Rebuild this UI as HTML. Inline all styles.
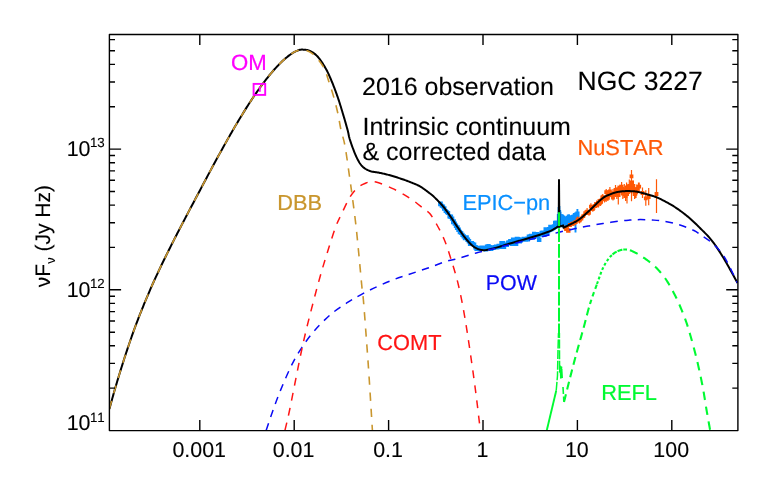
<!DOCTYPE html>
<html><head><meta charset="utf-8"><title>NGC 3227 SED</title>
<style>html,body{margin:0;padding:0;background:#fff;}svg{display:block;will-change:transform;}text{font-family:"Liberation Sans",sans-serif;text-rendering:geometricPrecision;font-kerning:none;}.k text{stroke:#000;stroke-width:.12px;}</style>
</head><body>
<svg width="770" height="500" viewBox="0 0 770 500">
<rect width="770" height="500" fill="#fff"/>
<defs><clipPath id="pc"><rect x="109.4" y="34.5" width="628.5" height="396.1"/></clipPath></defs>
<g clip-path="url(#pc)">
<path d="M557.8 214.0V227.0M558.6 207.0V227.0M559.4 206.0V227.0M560.2 210.0V227.0M560.6 211.7V226.9M561.8 214.0V227.2M563.0 214.4V227.5M564.2 215.5V227.4M565.4 216.6V226.8M566.6 215.8V226.2M567.8 214.6V225.6M569.0 214.2V225.0M570.2 215.6V224.4M571.4 215.0V223.8M572.6 214.4V223.2M573.8 212.9V222.6M575.0 212.6V222.0M576.2 211.6V221.3M577.4 208.9V220.6M578.6 211.6V219.8M575.5 222V232.5" stroke="#0a90ff" stroke-width="1.9" fill="none"/>
<path d="M438.1 201.5h4.7v4.7h-4.7zM439.7 203.7h4.1v4.1h-4.1zM441.0 204.4h4.1v4.1h-4.1zM442.0 206.2h4.5v4.5h-4.5zM443.6 208.9h4.1v4.1h-4.1zM444.9 210.2h4.1v4.1h-4.1zM446.1 210.9h4.1v4.1h-4.1zM447.4 214.2h4.2v4.2h-4.2zM448.5 214.4h4.6v4.6h-4.6zM449.9 216.4h4.4v4.4h-4.4zM451.0 219.3h4.9v4.9h-4.9zM452.6 221.4h4.3v4.3h-4.3zM453.8 223.6h4.3v4.3h-4.3zM454.9 225.3h4.8v4.8h-4.8zM456.3 227.4h4.6v4.6h-4.6zM457.7 229.8h4.4v4.4h-4.4zM459.2 230.9h4.1v4.1h-4.1zM460.4 232.8h4.2v4.2h-4.2zM461.6 234.3h4.3v4.3h-4.3zM462.8 235.6h4.6v4.6h-4.6zM464.0 235.2h4.8v4.8h-4.8zM465.4 237.4h4.7v4.7h-4.7zM466.7 238.9h4.5v4.5h-4.5zM467.9 241.2h4.9v4.9h-4.9zM469.1 241.1h5.0v5.0h-5.0zM470.8 242.1h4.1v4.1h-4.1zM472.1 242.4h4.2v4.2h-4.2zM473.3 245.1h4.5v4.5h-4.5zM474.4 246.2h4.8v4.8h-4.8zM475.8 245.8h4.6v4.6h-4.6zM477.1 246.5h4.7v4.7h-4.7zM478.4 245.8h4.6v4.6h-4.6zM479.6 245.6h4.8v4.8h-4.8zM480.8 246.1h4.9v4.9h-4.9zM482.6 245.7h4.1v4.1h-4.1zM483.5 246.7h4.7v4.7h-4.7zM484.8 244.5h4.8v4.8h-4.8zM486.4 244.0h4.3v4.3h-4.3zM487.8 245.1h4.0v4.0h-4.0zM488.9 246.4h4.5v4.5h-4.5zM490.4 245.7h4.1v4.1h-4.1zM491.3 245.2h4.8v4.8h-4.8zM492.8 245.1h4.4v4.4h-4.4zM493.9 244.5h4.9v4.9h-4.9zM495.3 244.7h4.5v4.5h-4.5zM496.5 243.7h4.9v4.9h-4.9zM498.1 244.8h4.3v4.3h-4.3zM499.3 241.1h4.4v4.4h-4.4zM500.3 241.0h5.0v5.0h-5.0zM502.0 244.7h4.2v4.2h-4.2zM503.3 242.6h4.2v4.2h-4.2zM504.5 242.6h4.5v4.5h-4.5zM506.0 240.6h4.0v4.0h-4.0zM507.1 240.3h4.4v4.4h-4.4zM508.1 239.0h5.0v5.0h-5.0zM509.6 241.4h4.7v4.7h-4.7zM510.9 237.5h4.7v4.7h-4.7zM512.5 239.3h4.1v4.1h-4.1zM513.4 241.0h4.9v4.9h-4.9zM514.7 236.8h4.8v4.8h-4.8zM516.3 237.1h4.1v4.1h-4.1zM517.4 238.8h4.6v4.6h-4.6zM518.9 238.2h4.2v4.2h-4.2zM520.2 237.5h4.2v4.2h-4.2zM521.6 236.7h4.0v4.0h-4.0zM522.8 237.1h4.2v4.2h-4.2zM524.2 237.7h4.0v4.0h-4.0zM525.1 236.5h4.9v4.9h-4.9zM526.7 234.6h4.3v4.3h-4.3zM527.9 234.3h4.3v4.3h-4.3zM529.0 233.7h4.8v4.8h-4.8zM530.2 234.7h5.0v5.0h-5.0zM532.0 231.7h4.1v4.1h-4.1zM533.2 234.1h4.1v4.1h-4.1zM534.2 231.9h4.8v4.8h-4.8zM535.8 234.1h4.2v4.2h-4.2zM536.9 237.4h4.5v4.5h-4.5zM538.4 232.6h4.1v4.1h-4.1zM539.5 230.7h4.5v4.5h-4.5zM540.6 230.4h5.0v5.0h-5.0zM542.3 232.8h4.3v4.3h-4.3zM543.5 227.2h4.4v4.4h-4.4zM544.7 231.4h4.5v4.5h-4.5zM545.8 229.2h4.4v4.4h-4.4zM546.0 228.7h4.0v4.0h-4.0zM547.0 226.9h4.4v4.4h-4.4zM547.2 228.2h4.0v4.0h-4.0zM548.2 224.8h4.4v4.4h-4.4zM548.4 227.7h4.0v4.0h-4.0zM549.4 224.9h4.4v4.4h-4.4zM549.6 227.2h4.0v4.0h-4.0zM550.6 225.3h4.4v4.4h-4.4zM550.8 226.5h4.0v4.0h-4.0zM551.8 224.2h4.4v4.4h-4.4zM552.0 225.8h4.0v4.0h-4.0zM553.0 220.8h4.4v4.4h-4.4zM553.2 225.1h4.0v4.0h-4.0zM554.2 220.4h4.4v4.4h-4.4zM554.4 224.3h4.0v4.0h-4.0z" fill="#0a90ff" stroke="none"/>
</g>
<g clip-path="url(#pc)">
<path d="M570.0 223.2V226.8M571.9 221.5V226.1M573.8 220.6V226.0M575.7 219.7V224.7M577.6 216.6V222.2M579.5 217.5V223.6M581.4 215.6V221.5M583.3 213.8V218.4M585.2 209.9V216.2M587.1 208.1V215.1M589.0 210.1V215.7M590.9 203.2V210.0M592.8 206.6V211.8M594.7 202.2V209.9M596.6 200.4V208.0M598.5 199.3V207.6M600.4 198.5V206.0M602.3 194.4V200.3M604.2 195.9V201.5M606.1 194.5V202.0M608.0 190.2V199.3M609.9 186.9V195.9M611.8 191.6V198.5M596.0 202.2V206.8M597.7 201.6V207.2M599.4 198.8V203.4M601.1 198.4V205.2M602.8 194.0V200.1M604.5 195.4V202.6M606.2 189.1V195.3M607.9 194.5V201.0M609.6 191.3V197.6M611.3 191.3V197.0M613.0 194.7V200.5M614.7 189.6V196.6M616.4 188.8V195.4M618.1 185.5V192.9M619.8 184.8V191.0M621.5 186.3V194.2M623.2 187.1V196.0M624.9 189.5V197.6M626.6 182.4V192.2M628.3 185.6V193.7M630.0 184.7V193.2M631.7 184.6V194.1M633.4 183.9V192.6M635.1 187.3V198.2M636.8 184.6V195.6M638.5 182.4V190.7M656.5 179.3V212.9M648.7 188.1V205.2M645.8 190.3V205.7M642.5 187.5V198.0M639.2 182.6V191.4M636.0 187.0V198.0M633.4 180.5V191.0M631.5 170.0V201.3M631.5 170.0V182.0M629.3 179.5V194.0M627.0 184.3V203.5M624.3 184.0V198.0M621.6 182.0V193.6M618.3 187.0V204.6M615.5 185.0V197.0M613.0 189.0V200.0M619.8 186.0V197.0M625.6 190.0V201.0M622.8 188.0V199.0M616.8 188.5V199.0M628.2 185.0V196.0M634.6 189.0V199.0" stroke="#ff5805" stroke-width="1.2" fill="none"/>
<path d="M564.1 226.1h4.8v4.8h-4.8zM566.1 228.3h4.4v4.4h-4.4zM563.2 225.7h3.6v3.6h-3.6zM568.1 223.1h3.8v3.8h-3.8zM570.0 221.9h3.8v3.8h-3.8zM571.9 221.4h3.8v3.8h-3.8zM573.8 220.3h3.8v3.8h-3.8zM575.7 217.5h3.8v3.8h-3.8zM577.6 218.6h3.8v3.8h-3.8zM579.5 216.6h3.8v3.8h-3.8zM581.4 214.2h3.8v3.8h-3.8zM583.3 211.2h3.8v3.8h-3.8zM585.2 209.7h3.8v3.8h-3.8zM587.1 211.0h3.8v3.8h-3.8zM589.0 204.7h3.8v3.8h-3.8zM590.9 207.3h3.8v3.8h-3.8zM592.8 204.1h3.8v3.8h-3.8zM594.7 202.3h3.8v3.8h-3.8zM596.6 201.5h3.8v3.8h-3.8zM598.5 200.4h3.8v3.8h-3.8zM600.4 195.5h3.8v3.8h-3.8zM602.3 196.8h3.8v3.8h-3.8zM604.2 196.4h3.8v3.8h-3.8zM606.1 192.8h3.8v3.8h-3.8zM608.0 189.5h3.8v3.8h-3.8zM609.9 193.2h3.8v3.8h-3.8zM594.1 202.6h3.8v3.8h-3.8zM595.8 202.5h3.8v3.8h-3.8zM597.5 199.2h3.8v3.8h-3.8zM599.2 199.9h3.8v3.8h-3.8zM600.9 195.2h3.8v3.8h-3.8zM602.6 197.1h3.8v3.8h-3.8zM604.3 190.3h3.8v3.8h-3.8zM606.0 195.9h3.8v3.8h-3.8zM607.7 192.5h3.8v3.8h-3.8zM609.4 192.2h3.8v3.8h-3.8zM611.1 195.7h3.8v3.8h-3.8zM612.8 191.2h3.8v3.8h-3.8zM614.5 190.2h3.8v3.8h-3.8zM616.2 187.3h3.8v3.8h-3.8zM617.9 186.0h3.8v3.8h-3.8zM619.6 188.3h3.8v3.8h-3.8zM621.3 189.7h3.8v3.8h-3.8zM623.0 191.6h3.8v3.8h-3.8zM624.7 185.4h3.8v3.8h-3.8zM626.4 187.8h3.8v3.8h-3.8zM628.1 187.0h3.8v3.8h-3.8zM629.8 187.4h3.8v3.8h-3.8zM631.5 186.4h3.8v3.8h-3.8zM633.2 190.9h3.8v3.8h-3.8zM634.9 188.2h3.8v3.8h-3.8zM636.6 184.7h3.8v3.8h-3.8zM654.6 192.1h3.8v3.8h-3.8zM646.8 195.1h3.8v3.8h-3.8zM643.9 196.4h3.8v3.8h-3.8zM640.6 191.1h3.8v3.8h-3.8zM637.3 184.8h3.8v3.8h-3.8zM634.1 190.1h3.8v3.8h-3.8zM631.5 184.1h3.8v3.8h-3.8zM629.6 180.4h3.8v3.8h-3.8zM629.6 174.4h3.8v3.8h-3.8zM627.4 184.1h3.8v3.8h-3.8zM625.1 192.1h3.8v3.8h-3.8zM622.4 188.1h3.8v3.8h-3.8zM619.7 184.8h3.8v3.8h-3.8zM616.4 193.1h3.8v3.8h-3.8zM613.6 188.1h3.8v3.8h-3.8zM611.1 192.6h3.8v3.8h-3.8zM617.9 189.1h3.8v3.8h-3.8zM623.7 194.1h3.8v3.8h-3.8zM620.9 191.6h3.8v3.8h-3.8zM614.9 191.6h3.8v3.8h-3.8zM626.3 188.1h3.8v3.8h-3.8zM632.7 192.1h3.8v3.8h-3.8z" fill="#ff5805" stroke="none"/>
</g>
<g clip-path="url(#pc)" fill="none" stroke-linecap="butt" stroke-linejoin="round">
<path d="M109.40 408.90 L109.62 408.10 L109.90 407.11 L110.22 405.94 L110.58 404.64 L110.97 403.21 L111.39 401.71 L111.82 400.14 L112.27 398.54 L112.71 396.94 L113.16 395.36 L113.59 393.84 L114.00 392.40 L114.40 391.01 L114.80 389.63 L115.20 388.25 L115.60 386.88 L116.00 385.50 L116.41 384.11 L116.83 382.72 L117.24 381.31 L117.67 379.89 L118.10 378.45 L118.55 376.99 L119.00 375.50 L119.46 373.99 L119.93 372.46 L120.41 370.92 L120.89 369.36 L121.38 367.78 L121.88 366.19 L122.38 364.58 L122.89 362.97 L123.41 361.34 L123.93 359.70 L124.46 358.05 L125.00 356.40 L125.55 354.73 L126.10 353.05 L126.66 351.36 L127.22 349.65 L127.80 347.93 L128.38 346.20 L128.96 344.46 L129.56 342.72 L130.16 340.97 L130.76 339.21 L131.38 337.46 L132.00 335.70 L132.63 333.94 L133.25 332.19 L133.88 330.44 L134.52 328.69 L135.16 326.93 L135.81 325.16 L136.47 323.38 L137.15 321.59 L137.84 319.78 L138.54 317.94 L139.26 316.09 L140.00 314.20 L140.76 312.28 L141.55 310.31 L142.36 308.31 L143.19 306.28 L144.02 304.23 L144.88 302.18 L145.73 300.12 L146.59 298.07 L147.45 296.03 L148.31 294.02 L149.16 292.04 L150.00 290.10 L150.83 288.21 L151.64 286.35 L152.45 284.53 L153.26 282.73 L154.07 280.95 L154.88 279.17 L155.69 277.39 L156.52 275.60 L157.36 273.80 L158.22 271.97 L159.10 270.11 L160.00 268.20 L160.93 266.26 L161.87 264.29 L162.84 262.29 L163.81 260.28 L164.81 258.25 L165.81 256.21 L166.83 254.15 L167.85 252.09 L168.88 250.01 L169.92 247.94 L170.96 245.87 L172.00 243.80 L173.05 241.73 L174.11 239.64 L175.18 237.54 L176.26 235.44 L177.35 233.33 L178.44 231.21 L179.53 229.10 L180.63 226.99 L181.73 224.88 L182.82 222.77 L183.91 220.68 L185.00 218.60 L186.08 216.53 L187.17 214.46 L188.25 212.40 L189.33 210.35 L190.42 208.30 L191.50 206.25 L192.58 204.21 L193.67 202.16 L194.75 200.12 L195.83 198.08 L196.92 196.04 L198.00 194.00 L199.08 191.96 L200.17 189.91 L201.25 187.87 L202.33 185.83 L203.42 183.79 L204.50 181.75 L205.58 179.71 L206.67 177.68 L207.75 175.65 L208.83 173.63 L209.92 171.61 L211.00 169.60 L212.08 167.59 L213.17 165.58 L214.25 163.58 L215.33 161.58 L216.42 159.58 L217.50 157.59 L218.58 155.60 L219.67 153.62 L220.75 151.65 L221.83 149.69 L222.92 147.74 L224.00 145.80 L225.08 143.87 L226.17 141.95 L227.25 140.03 L228.33 138.12 L229.42 136.22 L230.50 134.32 L231.58 132.44 L232.67 130.57 L233.75 128.71 L234.83 126.86 L235.92 125.02 L237.00 123.20 L238.09 121.38 L239.18 119.56 L240.27 117.75 L241.37 115.94 L242.47 114.15 L243.56 112.37 L244.65 110.61 L245.74 108.87 L246.82 107.15 L247.89 105.47 L248.95 103.82 L250.00 102.20 L251.04 100.62 L252.07 99.06 L253.09 97.54 L254.11 96.03 L255.12 94.56 L256.12 93.11 L257.12 91.68 L258.11 90.28 L259.09 88.90 L260.07 87.54 L261.04 86.21 L262.00 84.90 L262.95 83.61 L263.90 82.35 L264.84 81.10 L265.78 79.89 L266.70 78.69 L267.62 77.52 L268.54 76.37 L269.44 75.25 L270.34 74.15 L271.24 73.07 L272.12 72.02 L273.00 71.00 L273.87 70.00 L274.75 69.02 L275.62 68.06 L276.48 67.13 L277.34 66.22 L278.19 65.34 L279.03 64.48 L279.85 63.65 L280.66 62.84 L281.46 62.07 L282.24 61.32 L283.00 60.60 L283.74 59.91 L284.47 59.25 L285.19 58.63 L285.89 58.03 L286.58 57.45 L287.25 56.91 L287.91 56.38 L288.56 55.89 L289.19 55.41 L289.81 54.95 L290.41 54.52 L291.00 54.10 L291.57 53.71 L292.13 53.34 L292.66 53.00 L293.19 52.69 L293.69 52.39 L294.19 52.12 L294.67 51.86 L295.15 51.63 L295.62 51.40 L296.08 51.19 L296.54 50.99 L297.00 50.80 L297.44 50.62 L297.86 50.45 L298.25 50.29 L298.63 50.15 L299.00 50.02 L299.38 49.91 L299.75 49.81 L300.15 49.73 L300.56 49.67 L301.00 49.63 L301.48 49.60 L302.00 49.60 L302.56 49.61 L303.16 49.63 L303.79 49.66 L304.44 49.70 L305.12 49.77 L305.81 49.85 L306.51 49.96 L307.22 50.10 L307.93 50.27 L308.63 50.47 L309.32 50.71 L310.00 51.00 L310.67 51.32 L311.33 51.66 L312.00 52.04 L312.67 52.44 L313.33 52.87 L314.00 53.34 L314.67 53.84 L315.33 54.39 L316.00 54.97 L316.67 55.60 L317.33 56.28 L318.00 57.00 L318.67 57.79 L319.36 58.64 L320.05 59.55 L320.74 60.52 L321.43 61.52 L322.12 62.56 L322.81 63.63 L323.48 64.70 L324.14 65.79 L324.78 66.87 L325.40 67.95 L326.00 69.00 L326.57 70.04 L327.12 71.07 L327.64 72.11 L328.15 73.15 L328.64 74.19 L329.12 75.25 L329.60 76.32 L330.07 77.41 L330.55 78.52 L331.02 79.65 L331.51 80.81 L332.00 82.00 L332.50 83.23 L333.01 84.49 L333.52 85.79 L334.04 87.11 L334.55 88.45 L335.06 89.81 L335.57 91.18 L336.07 92.56 L336.57 93.93 L337.06 95.30 L337.54 96.66 L338.00 98.00 L338.45 99.33 L338.90 100.67 L339.33 102.00 L339.76 103.33 L340.17 104.67 L340.59 106.00 L341.00 107.33 L341.40 108.67 L341.80 110.00 L342.20 111.33 L342.60 112.67 L343.00 114.00 L343.40 115.35 L343.82 116.74 L344.23 118.14 L344.64 119.56 L345.06 120.97 L345.46 122.38 L345.86 123.76 L346.24 125.11 L346.61 126.42 L346.97 127.68 L347.29 128.88 L347.60 130.00 L347.87 131.02 L348.09 131.94 L348.27 132.78 L348.43 133.56 L348.57 134.29 L348.71 135.00 L348.86 135.71 L349.01 136.44 L349.20 137.22 L349.42 138.06 L349.68 138.98 L350.00 140.00 L350.37 141.14 L350.79 142.39 L351.25 143.72 L351.73 145.11 L352.24 146.55 L352.77 148.00 L353.32 149.45 L353.87 150.89 L354.42 152.28 L354.96 153.61 L355.49 154.86 L356.00 156.00 L356.49 157.06 L356.98 158.07 L357.45 159.04 L357.93 159.96 L358.40 160.85 L358.88 161.69 L359.36 162.49 L359.85 163.26 L360.36 163.99 L360.88 164.69 L361.43 165.36 L362.00 166.00 L362.59 166.60 L363.19 167.16 L363.81 167.67 L364.44 168.15 L365.09 168.59 L365.75 169.01 L366.42 169.39 L367.11 169.75 L367.81 170.09 L368.53 170.40 L369.26 170.71 L370.00 171.00 L370.76 171.27 L371.55 171.49 L372.36 171.68 L373.19 171.84 L374.02 171.99 L374.88 172.11 L375.73 172.23 L376.59 172.34 L377.45 172.46 L378.31 172.59 L379.16 172.73 L380.00 172.90 L380.83 173.08 L381.67 173.26 L382.50 173.45 L383.33 173.64 L384.17 173.83 L385.00 174.03 L385.83 174.23 L386.67 174.43 L387.50 174.64 L388.33 174.85 L389.17 175.07 L390.00 175.30 L390.83 175.53 L391.67 175.77 L392.50 176.01 L393.33 176.26 L394.17 176.52 L395.00 176.78 L395.83 177.04 L396.67 177.30 L397.50 177.57 L398.33 177.85 L399.17 178.12 L400.00 178.40 L400.83 178.68 L401.67 178.96 L402.50 179.25 L403.33 179.53 L404.17 179.82 L405.00 180.12 L405.83 180.42 L406.67 180.72 L407.50 181.03 L408.33 181.35 L409.17 181.67 L410.00 182.00 L410.83 182.33 L411.67 182.66 L412.50 182.98 L413.33 183.31 L414.17 183.64 L415.00 183.98 L415.83 184.33 L416.67 184.70 L417.50 185.09 L418.33 185.50 L419.17 185.94 L420.00 186.40 L420.84 186.90 L421.70 187.44 L422.57 188.00 L423.44 188.60 L424.32 189.21 L425.19 189.83 L426.05 190.46 L426.89 191.09 L427.71 191.72 L428.51 192.33 L429.27 192.93 L430.00 193.50 L430.69 194.05 L431.34 194.58 L431.96 195.10 L432.56 195.61 L433.13 196.11 L433.69 196.61 L434.24 197.12 L434.78 197.63 L435.32 198.15 L435.87 198.68 L436.43 199.23 L437.00 199.80 L437.58 200.39 L438.17 200.98 L438.75 201.58 L439.33 202.19 L439.92 202.80 L440.50 203.43 L441.08 204.07 L441.67 204.73 L442.25 205.39 L442.83 206.08 L443.42 206.78 L444.00 207.50 L444.58 208.24 L445.17 209.00 L445.75 209.79 L446.33 210.59 L446.92 211.40 L447.50 212.22 L448.08 213.06 L448.67 213.90 L449.25 214.75 L449.83 215.60 L450.42 216.45 L451.00 217.30 L451.58 218.15 L452.17 219.02 L452.75 219.89 L453.33 220.77 L453.92 221.66 L454.50 222.55 L455.08 223.44 L455.67 224.33 L456.25 225.21 L456.83 226.08 L457.42 226.95 L458.00 227.80 L458.58 228.65 L459.17 229.50 L459.75 230.35 L460.33 231.20 L460.92 232.04 L461.50 232.87 L462.08 233.70 L462.67 234.51 L463.25 235.31 L463.83 236.10 L464.42 236.86 L465.00 237.60 L465.59 238.33 L466.18 239.05 L466.78 239.77 L467.39 240.48 L467.99 241.17 L468.59 241.84 L469.18 242.50 L469.77 243.12 L470.35 243.72 L470.91 244.28 L471.47 244.81 L472.00 245.30 L472.52 245.75 L473.01 246.15 L473.50 246.52 L473.97 246.86 L474.43 247.16 L474.89 247.44 L475.34 247.70 L475.79 247.94 L476.23 248.17 L476.68 248.39 L477.14 248.60 L477.60 248.80 L478.07 249.00 L478.53 249.18 L479.00 249.35 L479.47 249.50 L479.93 249.64 L480.40 249.76 L480.87 249.87 L481.33 249.97 L481.80 250.05 L482.27 250.11 L482.73 250.16 L483.20 250.20 L483.66 250.22 L484.10 250.22 L484.53 250.21 L484.96 250.17 L485.39 250.13 L485.83 250.07 L486.27 250.00 L486.73 249.91 L487.20 249.82 L487.70 249.72 L488.24 249.61 L488.80 249.50 L489.39 249.38 L489.99 249.25 L490.60 249.12 L491.23 248.97 L491.88 248.82 L492.55 248.65 L493.25 248.47 L493.97 248.29 L494.73 248.08 L495.51 247.87 L496.34 247.64 L497.20 247.40 L498.12 247.13 L499.11 246.84 L500.16 246.53 L501.24 246.20 L502.36 245.85 L503.50 245.50 L504.64 245.15 L505.78 244.79 L506.89 244.45 L507.98 244.11 L509.02 243.80 L510.00 243.50 L510.93 243.22 L511.83 242.96 L512.70 242.70 L513.54 242.46 L514.37 242.22 L515.17 241.98 L515.98 241.75 L516.77 241.52 L517.57 241.29 L518.37 241.07 L519.18 240.83 L520.00 240.60 L520.83 240.36 L521.67 240.13 L522.50 239.90 L523.33 239.67 L524.17 239.44 L525.00 239.21 L525.83 238.98 L526.67 238.75 L527.50 238.52 L528.33 238.28 L529.17 238.04 L530.00 237.80 L530.83 237.55 L531.67 237.31 L532.50 237.06 L533.33 236.81 L534.17 236.55 L535.00 236.30 L535.83 236.04 L536.67 235.78 L537.50 235.52 L538.33 235.25 L539.17 234.98 L540.00 234.70 L540.85 234.41 L541.72 234.12 L542.62 233.81 L543.52 233.50 L544.42 233.19 L545.31 232.88 L546.19 232.56 L547.04 232.25 L547.85 231.95 L548.62 231.65 L549.34 231.37 L550.00 231.10 L550.60 230.84 L551.14 230.59 L551.64 230.35 L552.10 230.11 L552.52 229.88 L552.92 229.66 L553.29 229.44 L553.64 229.22 L553.99 229.01 L554.32 228.80 L554.66 228.60 L555.00 228.40 L555.35 228.20 L555.69 227.99 L556.02 227.78 L556.35 227.58 L556.66 227.38 L556.96 227.18 L557.25 227.00 L557.51 226.82 L557.75 226.66 L557.96 226.52 L558.15 226.40 L558.30 226.30 L558.7 226.5 L559 179.2 L559.4 226.6 L563 225.6 L563.6 227.6 563.60 227.60 L563.66 227.58 L563.71 227.56 L563.77 227.54 L563.83 227.51 L563.90 227.49 L563.99 227.46 L564.09 227.42 L564.21 227.36 L564.36 227.30 L564.54 227.22 L564.75 227.12 L565.00 227.00 L565.29 226.86 L565.63 226.69 L566.00 226.51 L566.40 226.31 L566.83 226.09 L567.27 225.87 L567.73 225.64 L568.20 225.40 L568.67 225.17 L569.12 224.94 L569.57 224.71 L570.00 224.50 L570.42 224.29 L570.83 224.09 L571.25 223.89 L571.67 223.69 L572.08 223.49 L572.50 223.29 L572.92 223.09 L573.33 222.89 L573.75 222.67 L574.17 222.46 L574.58 222.23 L575.00 222.00 L575.42 221.76 L575.83 221.52 L576.25 221.27 L576.67 221.02 L577.08 220.77 L577.50 220.51 L577.92 220.24 L578.33 219.97 L578.75 219.69 L579.17 219.40 L579.58 219.10 L580.00 218.80 L580.42 218.49 L580.83 218.16 L581.25 217.83 L581.67 217.49 L582.08 217.14 L582.50 216.79 L582.92 216.43 L583.33 216.07 L583.75 215.70 L584.17 215.33 L584.58 214.97 L585.00 214.60 L585.42 214.23 L585.83 213.86 L586.25 213.48 L586.67 213.10 L587.08 212.72 L587.50 212.34 L587.92 211.95 L588.33 211.56 L588.75 211.17 L589.17 210.78 L589.58 210.39 L590.00 210.00 L590.42 209.61 L590.83 209.21 L591.25 208.81 L591.67 208.41 L592.08 208.01 L592.50 207.61 L592.92 207.21 L593.33 206.81 L593.75 206.40 L594.17 206.00 L594.58 205.60 L595.00 205.20 L595.42 204.80 L595.83 204.39 L596.25 203.98 L596.67 203.56 L597.08 203.15 L597.50 202.74 L597.92 202.33 L598.33 201.93 L598.75 201.53 L599.17 201.14 L599.58 200.76 L600.00 200.40 L600.42 200.04 L600.83 199.69 L601.25 199.34 L601.67 199.00 L602.08 198.66 L602.50 198.34 L602.92 198.02 L603.33 197.71 L603.75 197.41 L604.17 197.13 L604.58 196.86 L605.00 196.60 L605.42 196.36 L605.83 196.14 L606.25 195.93 L606.67 195.73 L607.08 195.55 L607.50 195.38 L607.92 195.21 L608.33 195.04 L608.75 194.88 L609.17 194.73 L609.58 194.56 L610.00 194.40 L610.42 194.23 L610.83 194.07 L611.25 193.90 L611.67 193.74 L612.08 193.58 L612.50 193.43 L612.92 193.27 L613.33 193.13 L613.75 192.98 L614.17 192.85 L614.58 192.72 L615.00 192.60 L615.41 192.49 L615.82 192.38 L616.23 192.28 L616.63 192.19 L617.03 192.10 L617.44 192.02 L617.85 191.94 L618.26 191.87 L618.68 191.80 L619.11 191.73 L619.55 191.66 L620.00 191.60 L620.46 191.54 L620.94 191.48 L621.43 191.43 L621.93 191.37 L622.43 191.33 L622.94 191.28 L623.45 191.24 L623.96 191.20 L624.48 191.17 L624.99 191.14 L625.50 191.12 L626.00 191.10 L626.50 191.09 L627.01 191.08 L627.51 191.07 L628.02 191.07 L628.53 191.07 L629.03 191.08 L629.54 191.09 L630.04 191.11 L630.54 191.13 L631.03 191.15 L631.52 191.17 L632.00 191.20 L632.47 191.23 L632.91 191.25 L633.34 191.28 L633.76 191.30 L634.18 191.33 L634.59 191.37 L635.02 191.41 L635.46 191.46 L635.93 191.53 L636.42 191.60 L636.94 191.69 L637.50 191.80 L638.10 191.92 L638.71 192.06 L639.36 192.21 L640.02 192.37 L640.70 192.54 L641.41 192.72 L642.13 192.91 L642.87 193.11 L643.63 193.32 L644.40 193.54 L645.19 193.77 L646.00 194.00 L646.82 194.24 L647.67 194.47 L648.53 194.71 L649.41 194.96 L650.30 195.21 L651.22 195.47 L652.15 195.76 L653.09 196.06 L654.05 196.38 L655.02 196.72 L656.01 197.10 L657.00 197.50 L658.02 197.94 L659.09 198.42 L660.18 198.93 L661.30 199.47 L662.43 200.04 L663.56 200.61 L664.69 201.20 L665.81 201.79 L666.91 202.38 L667.98 202.97 L669.02 203.54 L670.00 204.10 L670.94 204.64 L671.84 205.17 L672.71 205.70 L673.56 206.22 L674.38 206.74 L675.19 207.27 L675.99 207.80 L676.78 208.33 L677.57 208.88 L678.37 209.44 L679.18 210.01 L680.00 210.60 L680.83 211.20 L681.67 211.82 L682.50 212.44 L683.33 213.07 L684.17 213.71 L685.00 214.36 L685.83 215.02 L686.67 215.70 L687.50 216.38 L688.33 217.07 L689.17 217.78 L690.00 218.50 L690.83 219.23 L691.64 219.95 L692.45 220.69 L693.26 221.43 L694.07 222.18 L694.88 222.94 L695.69 223.73 L696.52 224.53 L697.36 225.36 L698.22 226.21 L699.10 227.09 L700.00 228.00 L700.93 228.93 L701.88 229.88 L702.86 230.85 L703.85 231.83 L704.86 232.84 L705.88 233.87 L706.90 234.93 L707.93 236.03 L708.95 237.16 L709.98 238.33 L710.99 239.54 L712.00 240.80 L713.00 242.10 L713.98 243.43 L714.96 244.79 L715.94 246.19 L716.92 247.62 L717.91 249.09 L718.89 250.60 L719.89 252.15 L720.89 253.74 L721.91 255.38 L722.95 257.07 L724.00 258.80 L725.12 260.68 L726.32 262.75 L727.59 264.98 L728.89 267.30 L730.20 269.67 L731.50 272.03 L732.76 274.32 L733.94 276.50 L735.04 278.51 L736.01 280.30 L736.84 281.81 L737.50 283.00" stroke="#000" stroke-width="2.0" stroke-linejoin="miter"/>
<path d="M266.20 430.20 C267.23 427.17 269.97 418.77 272.40 412.00 C274.83 405.23 277.53 397.53 280.80 389.60 C284.07 381.67 288.50 371.40 292.00 364.40 C295.50 357.40 298.07 353.20 301.80 347.60 C305.53 342.00 309.50 336.40 314.40 330.80 C319.30 325.20 325.60 318.77 331.20 314.00 C336.80 309.23 344.03 304.87 348.00 302.20 C351.97 299.53 351.33 300.03 355.00 298.00 C358.67 295.97 364.17 292.83 370.00 290.00 C375.83 287.17 383.67 283.55 390.00 281.00 C396.33 278.45 401.67 276.87 408.00 274.70 C414.33 272.53 421.67 270.22 428.00 268.00 C434.33 265.78 441.47 262.85 446.00 261.40 C450.53 259.95 450.17 260.70 455.20 259.30 C460.23 257.90 468.73 255.05 476.20 253.00 C483.67 250.95 491.03 249.25 500.00 247.00 C508.97 244.75 522.50 241.33 530.00 239.50 C537.50 237.67 540.00 237.25 545.00 236.00 C550.00 234.75 554.17 233.40 560.00 232.00 C565.83 230.60 575.00 228.65 580.00 227.60 C585.00 226.55 586.17 226.38 590.00 225.70 C593.83 225.02 598.00 224.28 603.00 223.50 C608.00 222.72 615.50 221.57 620.00 221.00 C624.50 220.43 626.67 220.33 630.00 220.10 C633.33 219.87 636.33 219.62 640.00 219.60 C643.67 219.58 648.00 219.73 652.00 220.00 C656.00 220.27 659.33 220.37 664.00 221.20 C668.67 222.03 675.00 223.45 680.00 225.00 C685.00 226.55 690.67 228.93 694.00 230.50 C697.33 232.07 697.00 232.32 700.00 234.40 C703.00 236.48 708.00 239.33 712.00 243.00 C716.00 246.67 719.75 249.73 724.00 256.40 C728.25 263.07 735.25 278.57 737.50 283.00" stroke="#0a0af5" stroke-width="1.5" stroke-dasharray="7.5 6.4"/>
<path d="M285.00 430.20 C285.70 427.17 287.57 419.70 289.20 412.00 C290.83 404.30 292.93 393.33 294.80 384.00 C296.67 374.67 298.53 364.87 300.40 356.00 C302.27 347.13 303.77 340.13 306.00 330.80 C308.23 321.47 311.47 308.97 313.80 300.00 C316.13 291.03 318.13 283.67 320.00 277.00 C321.87 270.33 323.33 265.50 325.00 260.00 C326.67 254.50 328.17 249.67 330.00 244.00 C331.83 238.33 334.00 231.17 336.00 226.00 C338.00 220.83 339.67 217.83 342.00 213.00 C344.33 208.17 347.33 201.28 350.00 197.00 C352.67 192.72 355.33 189.63 358.00 187.30 C360.67 184.97 363.83 183.93 366.00 183.00 C368.17 182.07 369.33 181.87 371.00 181.70 C372.67 181.53 373.83 181.48 376.00 182.00 C378.17 182.52 381.00 183.60 384.00 184.80 C387.00 186.00 390.67 187.57 394.00 189.20 C397.33 190.83 400.67 192.63 404.00 194.60 C407.33 196.57 410.67 198.60 414.00 201.00 C417.33 203.40 421.33 206.87 424.00 209.00 C426.67 211.13 427.83 211.13 430.00 213.80 C432.17 216.47 434.67 220.80 437.00 225.00 C439.33 229.20 441.83 233.83 444.00 239.00 C446.17 244.17 447.63 248.47 450.00 256.00 C452.37 263.53 455.70 273.80 458.20 284.20 C460.70 294.60 462.72 305.10 465.00 318.40 C467.28 331.70 469.98 350.68 471.90 364.00 C473.82 377.32 475.10 387.27 476.50 398.30 C477.90 409.33 479.67 424.88 480.30 430.20" stroke="#ff1414" stroke-width="1.5" stroke-dasharray="7.8 7.4"/>
<path d="M109.40 408.90 C110.17 406.15 112.40 397.97 114.00 392.40 C115.60 386.83 117.17 381.50 119.00 375.50 C120.83 369.50 122.83 363.03 125.00 356.40 C127.17 349.77 129.50 342.73 132.00 335.70 C134.50 328.67 137.00 321.80 140.00 314.20 C143.00 306.60 146.67 297.77 150.00 290.10 C153.33 282.43 156.33 275.92 160.00 268.20 C163.67 260.48 167.83 252.07 172.00 243.80 C176.17 235.53 180.67 226.90 185.00 218.60 C189.33 210.30 193.67 202.17 198.00 194.00 C202.33 185.83 206.67 177.63 211.00 169.60 C215.33 161.57 219.67 153.53 224.00 145.80 C228.33 138.07 232.67 130.47 237.00 123.20 C241.33 115.93 245.83 108.58 250.00 102.20 C254.17 95.82 258.17 90.10 262.00 84.90 C265.83 79.70 269.50 75.05 273.00 71.00 C276.50 66.95 280.00 63.42 283.00 60.60 C286.00 57.78 288.67 55.73 291.00 54.10 C293.33 52.47 295.17 51.52 297.00 50.80 C298.83 50.08 300.00 49.68 302.00 49.80 C304.00 49.92 306.67 50.30 309.00 51.50 C311.33 52.70 313.50 54.25 316.00 57.00 C318.50 59.75 321.83 63.83 324.00 68.00 C326.17 72.17 327.33 77.00 329.00 82.00 C330.67 87.00 332.50 92.67 334.00 98.00 C335.50 103.33 336.83 108.67 338.00 114.00 C339.17 119.33 339.83 124.67 341.00 130.00 C342.17 135.33 343.50 137.67 345.00 146.00 C346.50 154.33 348.67 170.67 350.00 180.00 C351.33 189.33 352.00 194.33 353.00 202.00 C354.00 209.67 355.00 217.00 356.00 226.00 C357.00 235.00 358.00 245.67 359.00 256.00 C360.00 266.33 361.27 280.67 362.00 288.00 C362.73 295.33 362.70 291.93 363.40 300.00 C364.10 308.07 365.27 323.80 366.20 336.40 C367.13 349.00 367.97 359.97 369.00 375.60 C370.03 391.23 371.83 421.10 372.40 430.20" stroke="#c9962e" stroke-width="1.6" stroke-dasharray="8.3 7.8"/>
<path d="M546.8 430.2L556.2 390.8" stroke="#00fa32" stroke-width="1.9"/>
<path d="M556.2 390.8L557.5 375.5L558 350L558.5 333" stroke="#00fa32" stroke-width="1.5" stroke-dasharray="9 1.6"/>
<path d="M559 212.3V334" stroke="#00fa32" stroke-width="2.0" stroke-dasharray="13.7 2.2"/>
<path d="M559.4 333L559.6 372L560.2 366L560.8 378L561.6 367L562.3 379" stroke="#00fa32" stroke-width="1.5" stroke-dasharray="9 1.6" stroke-dashoffset="4"/>
<path d="M563 387L563.4 394M563.6 396.5L563.8 401.5" stroke="#00fa32" stroke-width="1.6"/>
<path d="M564.00 402.00 L564.29 400.84 L564.65 399.38 L565.08 397.66 L565.56 395.74 L566.07 393.65 L566.62 391.44 L567.20 389.14 L567.78 386.81 L568.36 384.49 L568.93 382.22 L569.48 380.04 L570.00 378.00 L570.50 376.05 L570.99 374.13 L571.48 372.23 L571.96 370.33 L572.45 368.45 L572.94 366.56 L573.43 364.67 L573.93 362.78 L574.43 360.87 L574.94 358.94 L575.46 356.98 L576.00 355.00 L576.55 352.99 L577.11 350.96 L577.68 348.91 L578.26 346.85 L578.85 344.78 L579.44 342.69 L580.03 340.59 L580.63 338.48 L581.23 336.37 L581.82 334.25 L582.41 332.12 L583.00 330.00 L583.58 327.85 L584.17 325.66 L584.75 323.43 L585.33 321.19 L585.92 318.93 L586.50 316.69 L587.08 314.46 L587.67 312.26 L588.25 310.10 L588.83 308.00 L589.42 305.96 L590.00 304.00" stroke="#00fa32" stroke-width="2.1" stroke-dasharray="8 4.8"/>
<path d="M590.00 304.00 L590.59 302.11 L591.18 300.27 L591.77 298.48 L592.37 296.74 L592.97 295.04 L593.56 293.38 L594.15 291.75 L594.74 290.15 L595.32 288.58 L595.89 287.03 L596.45 285.51 L597.00 284.00" stroke="#00fa32" stroke-width="2.1" stroke-dasharray="4.5 3.5"/>
<path d="M597.00 284.00 L597.53 282.51 L598.05 281.04 L598.55 279.60 L599.04 278.19 L599.52 276.80 L600.00 275.44 L600.48 274.11 L600.96 272.81 L601.45 271.55 L601.95 270.33 L602.47 269.15 L603.00 268.00 L603.55 266.89 L604.10 265.82 L604.66 264.78 L605.22 263.78 L605.80 262.81 L606.38 261.88 L606.96 260.98 L607.56 260.11 L608.16 259.28 L608.76 258.49 L609.38 257.73 L610.00 257.00 L610.63 256.31 L611.26 255.66 L611.91 255.04" stroke="#00fa32" stroke-width="2.1" stroke-dasharray="2.8 2.2"/>
<path d="M612.56 254.46 L613.21 253.91 L613.88 253.40 L614.55 252.92 L615.22 252.47 L615.91 252.06 L616.60 251.68 L617.30 251.32 L618.00 251.00 L618.71 250.71 L619.44 250.44 L620.18 250.21 L620.93 250.01 L621.68 249.85 L622.44 249.71 L623.20 249.61 L623.96 249.54 L624.73 249.50 L625.49 249.50 L626.25 249.53 L627.00 249.60" stroke="#00fa32" stroke-width="2.1" stroke-dasharray="5 1"/>
<path d="M627.00 249.60 L627.75 249.71 L628.49 249.86 L629.23 250.04 L629.96 250.27 L630.70 250.53 L631.44 250.82 L632.18 251.13 L632.93 251.47 L633.68 251.83 L634.44 252.21 L635.21 252.60 L636.00 253.00 L636.80 253.42 L637.61 253.86 L638.43 254.33 L639.26 254.81 L640.10 255.32 L640.94 255.85 L641.78 256.39 L642.63 256.95 L643.48 257.52 L644.32 258.11 L645.16 258.70 L646.00 259.30 L646.83 259.90 L647.67 260.51 L648.50 261.13 L649.33 261.75 L650.17 262.39 L651.00 263.04 L651.83 263.72 L652.67 264.41 L653.50 265.14 L654.33 265.89 L655.17 266.68 L656.00 267.50 L656.83 268.35 L657.67 269.21 L658.50 270.10 L659.33 271.00 L660.17 271.94 L661.00 272.90 L661.83 273.90 L662.67 274.93 L663.50 276.00 L664.33 277.12 L665.17 278.28 L666.00 279.50 L666.84 280.78 L667.69 282.12 L668.55 283.52 L669.41 284.97 L670.27 286.46 L671.12 287.98 L671.98 289.53 L672.81 291.09 L673.64 292.65 L674.45 294.21 L675.24 295.77 L676.00 297.30 L676.74 298.84 L677.48 300.40 L678.20 301.98 L678.91 303.57 L679.61 305.16 L680.29 306.76 L680.95 308.35 L681.60 309.93 L682.23 311.49 L682.84 313.03 L683.43 314.53 L684.00 316.00 L684.53 317.39 L685.03 318.68 L685.48 319.90 L685.91 321.08 L686.32 322.24 L686.72 323.40 L687.13 324.60 L687.53 325.86 L687.96 327.20 L688.40 328.65 L688.88 330.24 L689.40 332.00 L689.96 333.93 L690.56 336.02 L691.19 338.25 L691.84 340.59 L692.51 343.01 L693.18 345.49 L693.86 348.01 L694.53 350.54 L695.18 353.06 L695.82 355.54 L696.43 357.96 L697.00 360.30 L697.55 362.59 L698.08 364.88 L698.60 367.16 L699.11 369.43 L699.61 371.70 L700.09 373.94 L700.56 376.17 L701.01 378.38 L701.45 380.56 L701.88 382.71 L702.30 384.82 L702.70 386.90 L703.08 388.94 L703.44 390.94 L703.79 392.91 L704.11 394.85 L704.42 396.77 L704.73 398.66 L705.02 400.53 L705.31 402.38 L705.60 404.22 L705.89 406.05 L706.19 407.88 L706.50 409.70 L706.82 411.57 L707.17 413.54 L707.52 415.55 L707.88 417.58 L708.24 419.60 L708.59 421.57 L708.93 423.47 L709.24 425.25 L709.54 426.89 L709.80 428.35 L710.02 429.60 L710.20 430.60" stroke="#00fa32" stroke-width="2.1" stroke-dasharray="8.5 6.6" stroke-dashoffset="-3"/>
</g>
<rect x="253.6" y="83.9" width="11.6" height="11.0" fill="none" stroke="#ff00ff" stroke-width="1.9"/>
<path d="M259.8 86.4V91.8" stroke="#ff00ff" stroke-width="1.8"/>
<g stroke="#000" stroke-width="1.4" fill="none" stroke-linecap="butt" stroke-linejoin="round">
<rect x="109.4" y="34.5" width="628.5" height="396.1"/>
<path d="M199.8 430.6v-10.5M199.8 34.5v10.5M294.2 430.6v-10.5M294.2 34.5v10.5M388.6 430.6v-10.5M388.6 34.5v10.5M483.0 430.6v-10.5M483.0 34.5v10.5M577.4 430.6v-10.5M577.4 34.5v10.5M671.8 430.6v-10.5M671.8 34.5v10.5M109.4 388.1h5.6M737.9 388.1h-5.6M109.4 363.4h5.6M737.9 363.4h-5.6M109.4 345.8h5.6M737.9 345.8h-5.6M109.4 332.2h5.6M737.9 332.2h-5.6M109.4 321.0h5.6M737.9 321.0h-5.6M109.4 311.6h5.6M737.9 311.6h-5.6M109.4 303.4h5.6M737.9 303.4h-5.6M109.4 296.2h5.6M737.9 296.2h-5.6M109.4 289.8h11.7M737.9 289.8h-11.7M109.4 247.4h5.6M737.9 247.4h-5.6M109.4 222.7h5.6M737.9 222.7h-5.6M109.4 205.1h5.6M737.9 205.1h-5.6M109.4 191.5h5.6M737.9 191.5h-5.6M109.4 180.3h5.6M737.9 180.3h-5.6M109.4 170.9h5.6M737.9 170.9h-5.6M109.4 162.7h5.6M737.9 162.7h-5.6M109.4 155.5h5.6M737.9 155.5h-5.6M109.4 149.1h11.7M737.9 149.1h-11.7M109.4 106.7h5.6M737.9 106.7h-5.6M109.4 82.0h5.6M737.9 82.0h-5.6M109.4 64.4h5.6M737.9 64.4h-5.6M109.4 50.8h5.6M737.9 50.8h-5.6M109.4 39.6h5.6M737.9 39.6h-5.6"/>
</g>
<g class="k">
<g font-size="21.4" fill="#000" text-anchor="middle">
<text x="199.2" y="456.5">0.001</text>
<text x="293.6" y="456.5">0.01</text>
<text x="388.0" y="456.5">0.1</text>
<text x="482.4" y="456.5">1</text>
<text x="576.8" y="456.5">10</text>
<text x="671.2" y="456.5">100</text>
</g>
<text x="90.5" y="155.8" font-size="21.4" text-anchor="end">10</text><text x="89.9" y="147.0" font-size="13.3">13</text>
<text x="90.5" y="296.5" font-size="21.4" text-anchor="end">10</text><text x="89.9" y="287.7" font-size="13.3">12</text>
<text x="90.5" y="430.4" font-size="21.4" text-anchor="end">10</text><text x="89.9" y="421.6" font-size="13.3">11</text>
<text transform="translate(49.8,287.2) rotate(-90)" font-size="21">νF<tspan font-size="13" dy="5">ν</tspan><tspan dy="-5"> (Jy Hz)</tspan></text>
<text x="362" y="94.8" font-size="25">2016 observation</text>
<text x="577.5" y="89.9" font-size="26.5">NGC 3227</text>
<text x="362.5" y="134.6" font-size="25">Intrinsic continuum</text>
<text x="362.5" y="159.5" font-size="25">&amp; corrected data</text>
</g>
<text x="231.0" y="70.0" font-size="22.2" fill="#ff00ff" stroke="#ff00ff" stroke-width="0.2">OM</text>
<text x="277.2" y="209.8" font-size="21.8" fill="#c9962e" stroke="#c9962e" stroke-width="0.2">DBB</text>
<text x="377.3" y="349.8" font-size="21.8" fill="#ff1414" stroke="#ff1414" stroke-width="0.2">COMT</text>
<text x="485.8" y="289.9" font-size="21.4" fill="#0a0af5" stroke="#0a0af5" stroke-width="0.2">POW</text>
<text x="462.4" y="209.8" font-size="21.8" fill="#0a90ff" stroke="#0a90ff" stroke-width="0.2">EPIC−pn</text>
<text x="577.5" y="154.6" font-size="21.8" fill="#ff5805" stroke="#ff5805" stroke-width="0.2">NuSTAR</text>
<text x="601.2" y="399.7" font-size="21.8" fill="#00fa32" stroke="#00fa32" stroke-width="0.2">REFL</text>
</svg></body></html>
